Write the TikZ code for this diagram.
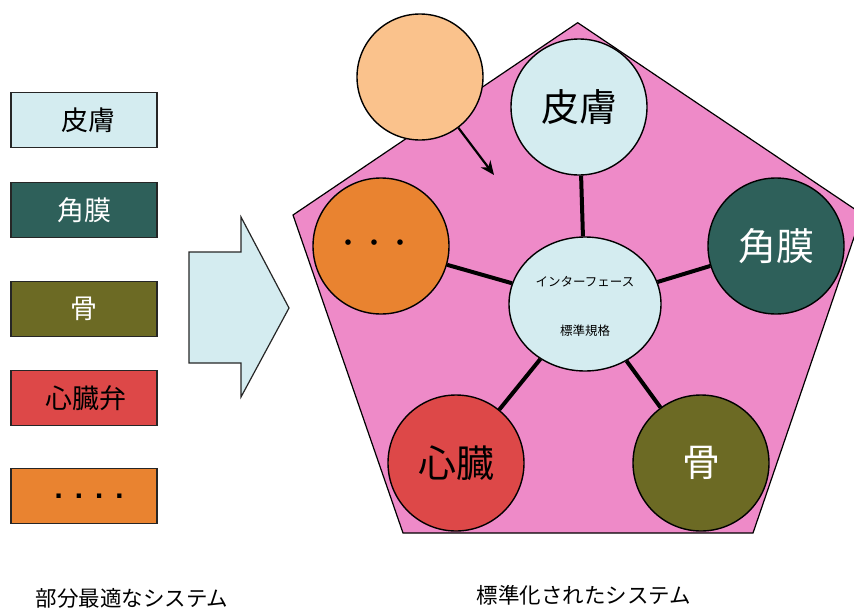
\documentclass[tikz,border=0pt]{standalone}
\usepackage{fontspec}
\newfontfamily\jp{Noto Sans CJK JP}
\newfontfamily\dotfont{DejaVu Sans}
\usetikzlibrary{arrows.meta,shapes.geometric}
\definecolor{skin}{RGB}{212,236,240}
\definecolor{cornea}{RGB}{46,96,90}
\definecolor{bone}{RGB}{108,106,36}
\definecolor{heart}{RGB}{221,72,72}
\definecolor{orng}{RGB}{233,131,48}
\definecolor{peach}{RGB}{250,194,140}
\definecolor{pinkbg}{RGB}{238,138,200}
\tikzset{
  legendbox/.style={draw=black!85, line width=1.2pt, minimum width=146pt, minimum height=55pt, inner sep=0pt, font=\jp\fontsize{27}{27}\selectfont},
  organ/.style={circle, draw=black, line width=1.4pt, minimum size=136pt, inner sep=0pt, font=\jp\fontsize{38}{38}\selectfont},
  link/.style={line width=4pt, black},
  caption/.style={font=\jp\fontsize{21.5}{21.5}\selectfont, inner sep=0pt}
}
\begin{document}
\begin{tikzpicture}[x=1pt,y=-1pt]
\useasboundingbox (0,0) rectangle (854,608);
\clip (0,0) rectangle (854,608);
% legend boxes
\node[legendbox, fill=skin] (b1) at (84,120) {\hspace*{8pt}皮膚};
\node[legendbox, fill=cornea, text=white] (b2) at (84,210) {角膜};
\node[legendbox, fill=bone, text=white] (b3) at (84,309) {骨};
\node[legendbox, fill=heart] (b4) at (84,398) {\hspace*{4pt}心臓弁};
\node[legendbox, fill=orng, font=\dotfont\bfseries\fontsize{24}{24}\selectfont] (b5) at (84,496) {\hspace*{10pt}. . . .};
% big arrow
\draw[fill=skin, draw=black!85, line width=1.2pt] (189,252) -- (241,252) -- (241,217) -- (289,308) -- (241,397) -- (241,363) -- (189,363) -- cycle;
% pentagon
\draw[fill=pinkbg, line width=1.2pt] (577.7,22.7) -- (862,214) -- (753,533) -- (403,533) -- (293,215) -- cycle;
% circles
\node[organ, fill=skin] (skin) at (579,107) {皮膚};
\node[organ, fill=cornea, text=white] (cornea) at (776,246) {角膜};
\node[organ, fill=orng, font=\jp\fontsize{26}{26}\selectfont] (etc) at (381,246) {\hspace*{-14pt}・・・};
\node[organ, fill=heart] (heart) at (456,463) {心臓};
\node[organ, fill=bone, text=white] (bone) at (701,463) {骨};
\node[ellipse, draw=black, line width=1.4pt, fill=skin, minimum width=152pt, minimum height=134pt, inner sep=0pt] (core) at (585,304) {};
\node[font=\jp\fontsize{12.5}{12.5}\selectfont, inner sep=0pt] (t1) at (585,282) {インターフェース};
\node[font=\jp\fontsize{12.5}{12.5}\selectfont, inner sep=0pt] (t2) at (585,331) {標準規格};
\node[circle, draw=black, line width=1.4pt, fill=peach, minimum size=126pt, inner sep=0pt] (new) at (420,77) {};
% links
\draw[link] (core) -- (skin);
\draw[link] (core) -- (cornea);
\draw[link] (core) -- (etc);
\draw[link] (core) -- (heart);
\draw[link] (core) -- (bone);
\coordinate (tip) at (494,175);
\draw[line width=2.2pt, -{Stealth[length=14pt,width=12pt]}] (new) -- (tip);
% captions
\node[caption] (c1) at (132,598) {部分最適なシステム};
\node[caption] (c2) at (584,595) {標準化されたシステム};
\end{tikzpicture}
\end{document}
